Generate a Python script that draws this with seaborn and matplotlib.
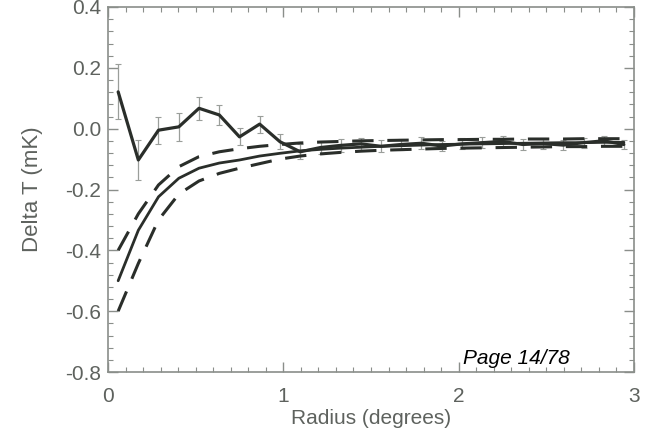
import numpy as np
import pandas as pd
import matplotlib
matplotlib.use("Agg")
import matplotlib.pyplot as plt
import seaborn as sns
from matplotlib.ticker import MultipleLocator

radius = [0.058, 0.173, 0.288, 0.404, 0.519, 0.635, 0.75, 0.865, 0.981, 1.096,
          1.212, 1.327, 1.442, 1.558, 1.673, 1.788, 1.904, 2.019, 2.135, 2.25,
          2.365, 2.481, 2.596, 2.712, 2.827, 2.942]
delta_t = [0.121, -0.103, -0.005, 0.006, 0.067, 0.045, -0.027, 0.015, -0.043, -0.076,
           -0.062, -0.055, -0.050, -0.058, -0.052, -0.048, -0.057, -0.050, -0.046, -0.042,
           -0.052, -0.049, -0.054, -0.046, -0.040, -0.052]
delta_t_err = [0.090, 0.065, 0.045, 0.045, 0.037, 0.033, 0.028, 0.028, 0.025, 0.025,
               0.022, 0.021, 0.020, 0.020, 0.019, 0.019, 0.018, 0.018, 0.018, 0.017,
               0.017, 0.017, 0.016, 0.016, 0.016, 0.016]
model = [-0.500, -0.334, -0.224, -0.163, -0.130, -0.113, -0.103, -0.090, -0.081, -0.073,
         -0.068, -0.064, -0.061, -0.058, -0.056, -0.054, -0.052, -0.051, -0.050, -0.049,
         -0.048, -0.047, -0.046, -0.046, -0.045, -0.045]
model_hi = [-0.400, -0.280, -0.185, -0.125, -0.092, -0.076, -0.066, -0.058, -0.052, -0.047,
            -0.044, -0.042, -0.040, -0.039, -0.038, -0.037, -0.036, -0.036, -0.035, -0.035,
            -0.034, -0.034, -0.034, -0.033, -0.033, -0.033]
model_lo = [-0.600, -0.443, -0.300, -0.215, -0.172, -0.147, -0.130, -0.115, -0.100, -0.090,
            -0.083, -0.078, -0.074, -0.071, -0.069, -0.067, -0.065, -0.064, -0.063, -0.062,
            -0.061, -0.060, -0.059, -0.059, -0.058, -0.058]

x_ticks = [0, 1, 2, 3]
y_ticks = [0.4, 0.2, 0.0, -0.2, -0.4, -0.6, -0.8]

sns.set_theme(style="ticks")
plt.rcParams['font.family'] = ['Liberation Sans', 'DejaVu Sans']

line_col = "#2a2e2a"
axis_col = "#8a8e8a"
text_col = "#5e625e"

fig = plt.figure(figsize=(6.68, 4.34), dpi=100)
ax = fig.add_axes([108/668, 1 - 372/434, (634 - 108)/668, (372 - 7)/434])

df = pd.DataFrame({"radius": radius, "data": delta_t, "model": model,
                   "hi": model_hi, "lo": model_lo})

ax.errorbar(df["radius"], df["data"], yerr=delta_t_err, fmt="none",
            ecolor="#9a9e9a", elinewidth=0.9, capsize=2.5, capthick=0.8, zorder=2)
sns.lineplot(data=df, x="radius", y="data", ax=ax, color=line_col, lw=2.3, zorder=3)
sns.lineplot(data=df, x="radius", y="model", ax=ax, color=line_col, lw=2.0, zorder=3)
for col in ["hi", "lo"]:
    sns.lineplot(data=df, x="radius", y=col, ax=ax, color=line_col, lw=2.2,
                 dashes=False, zorder=3).lines[-1].set_dashes((7, 4.5))

ax.set_xlim(0, 3)
ax.set_ylim(-0.8, 0.4)
ax.set_xticks(x_ticks)
ax.set_xticklabels([str(v) for v in x_ticks])
ax.set_yticks(y_ticks)
ax.set_yticklabels(["%.1f" % v for v in y_ticks])
ax.xaxis.set_minor_locator(MultipleLocator(0.1))
ax.yaxis.set_minor_locator(MultipleLocator(0.04))
ax.tick_params(which="both", direction="in", top=True, right=True,
               color=axis_col, labelcolor=text_col, labelsize=15)
ax.tick_params(which="major", length=7, width=1)
ax.tick_params(which="minor", length=3.5, width=0.8)
ax.tick_params(axis="x", pad=11)
ax.tick_params(axis="y", pad=5)
for s in ax.spines.values():
    s.set_color(axis_col)
    s.set_linewidth(1.2)

ax.set_xlabel("Radius (degrees)", color=text_col, fontsize=15, labelpad=2)
ax.set_ylabel("Delta T (mK)", color=text_col, fontsize=16, labelpad=16)

fig.text(516/668, 1 - 358/434, "Page 14/78", ha="center", va="center",
         style="italic", fontsize=15, color="black")

fig.savefig("out.png", dpi=100)
